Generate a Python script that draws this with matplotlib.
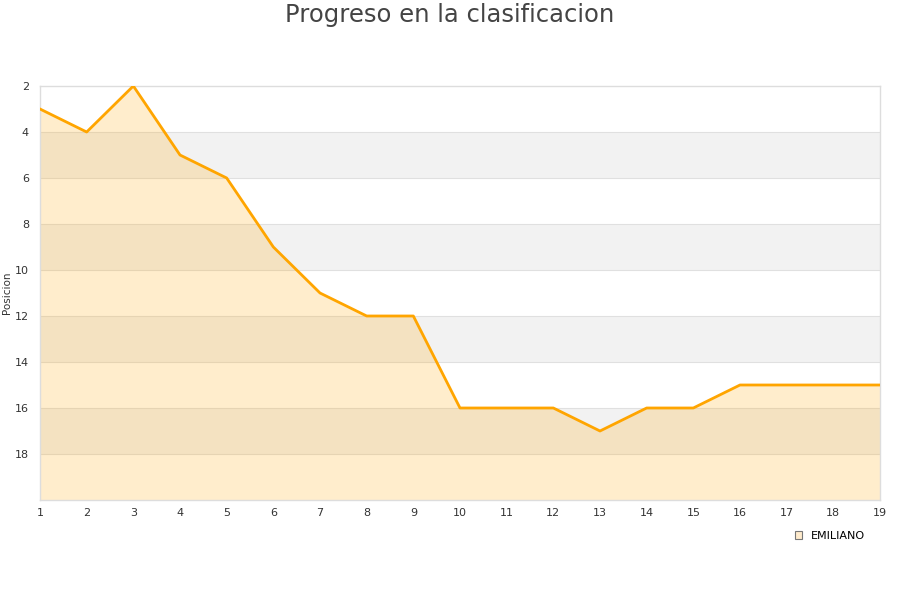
import matplotlib
matplotlib.use("Agg")
import matplotlib.pyplot as plt
from matplotlib.patches import Patch

jornadas = list(range(1, 20))
posiciones = [3, 4, 2, 5, 6, 9, 11, 12, 12, 16, 16, 16, 17, 16, 16, 15, 15, 15, 15]
yticks = [2, 4, 6, 8, 10, 12, 14, 16, 18]
serie = "EMILIANO"

fig = plt.figure(figsize=(9, 6), dpi=100)
ax = fig.add_axes([40/900, 1-500/600, 840/900, 414/600])

# alternating bands
for lo in [4, 8, 12, 16]:
    ax.axhspan(lo, lo+2, color="#f2f2f2", zorder=0, lw=0)
for yv in range(4, 20, 2):
    ax.axhline(yv, color="#e0e0e0", lw=0.8, zorder=1)

ax.fill_between(jornadas, posiciones, 20, color="#ffa500", alpha=0.2, lw=0, zorder=2)
ax.plot(jornadas, posiciones, color="#ffa500", lw=2, zorder=3)

ax.set_xlim(1, 19)
ax.set_ylim(20, 2)
ax.set_xticks(jornadas)
ax.set_yticks(yticks)
ax.tick_params(axis="both", length=0, labelsize=8, colors="#333333")
ax.tick_params(axis="y", pad=8)
ax.tick_params(axis="x", pad=6)
for s in ax.spines.values():
    s.set_color("#dddddd")
    s.set_linewidth(1)
ax.set_ylabel("Posicion", fontsize=7.5, color="#333333")
ax.yaxis.set_label_coords(-28/840, 0.5)

fig.text(0.5, 1-15/600, "Progreso en la clasificacion", ha="center", va="center",
         fontsize=17.5, color="#444444")

handle = Patch(facecolor="#ffebcc", edgecolor="#777777", lw=0.8)
fig.legend([handle], [serie], loc="center", bbox_to_anchor=(830/900, 1-536/600),
           frameon=False, fontsize=8, handlelength=0.7, handleheight=0.7,
           handletextpad=0.8)

fig.savefig("out.png", dpi=100, facecolor="white")
